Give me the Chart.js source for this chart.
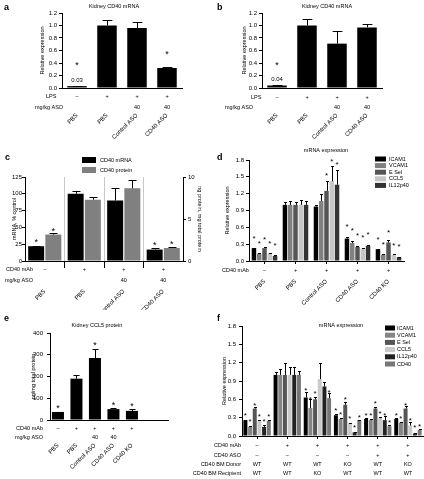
<!DOCTYPE html>
<html>
<head>
<meta charset="utf-8">
<script src="https://cdn.jsdelivr.net/npm/chart.js@4.4.1/dist/chart.umd.min.js"></script>
<style>
  html, body { margin: 0; padding: 0; background: #fff; }
  body { position: relative; width: 424px; height: 479px; overflow: hidden; }
  canvas { position: absolute; }
</style>
</head>
<body>
<canvas id="panelA" width="212" height="140" style="left:0;top:0"></canvas>
<canvas id="panelB" width="212" height="140" style="left:212px;top:0"></canvas>
<canvas id="panelC" width="212" height="170" style="left:0;top:140px"></canvas>
<canvas id="panelD" width="212" height="170" style="left:212px;top:140px"></canvas>
<canvas id="panelE" width="212" height="169" style="left:0;top:310px"></canvas>
<canvas id="panelF" width="244" height="169" style="left:180px;top:310px"></canvas>
<script>
// ---- data: panel a / b (kidney CD40 mRNA, LPS model)
const abCats = ['PBS', 'PBS', 'Control ASO', 'CD40 ASO'];
const abLPS = ['–', '+', '+', '+'];
const abASO = ['', '', '40', '40'];
const abTicks = [0, 0.2, 0.4, 0.6, 0.8, 1.0, 1.2];
const aVals = [0.03, 1.00, 0.96, 0.32];
const aErr = [0.035, 1.08, 1.05, 0.33];
const aStars = [0.39, null, null, 0.56];
const bVals = [0.04, 1.00, 0.71, 0.97];
const bErr = [0.05, 1.10, 0.91, 1.03];
const bStars = [0.39, null, null, null];

// ---- data: panel c (CD40 mRNA / protein)
const cCats = ['PBS', 'PBS', 'Control ASO', 'CD40 ASO'];
const cMAb = ['–', '+', '+', '+'];
const cASO = ['', '', '40', '40'];
const cTicksL = [0, 25, 50, 75, 100, 125];
const cTicksR = [0, 5, 10];
const cMRNA = [22, 100, 90, 17];
const cMRNAErr = [22.5, 104, 108, 19];
const cMRNAStars = [31, null, null, 26];
const cProt = [3.15, 7.3, 8.65, 1.55];
const cProtErr = [3.28, 7.6, 9.6, 1.65];
const cProtStars = [3.75, null, null, 2.2];

// ---- data: panel d (mRNA expression, 5 genes)
const dCats = ['PBS', 'PBS', 'Control ASO', 'CD40 ASO', 'CD40 KO'];
const dMAb = ['–', '+', '+', '+', '+'];
const dTicks = [0, 0.3, 0.6, 0.9, 1.2, 1.5, 1.8];
const dGenes = ['ICAM1', 'VCAM1', 'E Sel', 'CCL5', 'IL12p40'];
const dICAM1 = [0.23, 1.00, 0.97, 0.40, 0.21];
const dVCAM1 = [0.13, 1.00, 1.07, 0.32, 0.11];
const dESel = [0.23, 1.00, 1.25, 0.25, 0.33];
const dCCL5 = [0.14, 1.00, 1.42, 0.22, 0.11];
const dIL12 = [0.09, 1.00, 1.36, 0.27, 0.07];
const dICAM1Err = [0.24, 1.06, 1.00, 0.43, 0.22];
const dVCAM1Err = [0.14, 1.07, 1.20, 0.35, 0.12];
const dESelErr = [0.25, 1.06, 1.42, 0.26, 0.37];
const dCCL5Err = [0.15, 1.09, 1.70, 0.23, 0.12];
const dIL12Err = [0.10, 1.07, 1.62, 0.29, 0.08];
const dICAM1Star = [0.43, null, null, 0.64, 0.41];
const dVCAM1Star = [0.34, null, null, 0.57, 0.33];
const dESelStar = [0.41, null, 1.55, 0.48, 0.53];
const dCCL5Star = [0.34, null, 1.80, 0.45, 0.30];
const dIL12Star = [0.30, null, 1.75, 0.50, 0.29];

// ---- data: panel e (kidney CCL5 protein)
const eCats = ['PBS', 'PBS', 'Control ASO', 'CD40 ASO', 'CD40 KO'];
const eMAb = ['–', '+', '+', '+', '+'];
const eASO = ['', '', '40', '40', ''];
const eTicks = [0, 100, 200, 300, 400];
const eVals = [37, 190, 285, 50, 42];
const eErr = [39, 205, 328, 53, 52];
const eStars = [61, null, 353, 77, 73];

// ---- data: panel f (mRNA expression, bone marrow chimeras)
const fMAb = ['–', '+', '+', '+', '+', '+'];
const fASO = ['–', '–', '–', '–', '+', '+'];
const fDonor = ['WT', 'WT', 'WT', 'KO', 'WT', 'KO'];
const fRecipient = ['WT', 'WT', 'KO', 'WT', 'WT', 'WT'];
const fTicks = [0, 0.3, 0.6, 0.9, 1.2, 1.5, 1.8];
const fGenes = ['ICAM1', 'VCAM1', 'E Sel', 'CCL5', 'IL12p40', 'CD40'];
const fICAM1 = [0.26, 1.00, 0.63, 0.34, 0.28, 0.28];
const fVCAM1 = [0.15, 1.00, 0.46, 0.28, 0.26, 0.22];
const fESel = [0.45, 1.00, 0.60, 0.51, 0.45, 0.45];
const fCCL5 = [0.25, 1.00, 0.93, 0.21, 0.29, 0.17];
const fIL12 = [0.15, 1.00, 0.81, 0.06, 0.26, 0.04];
const fCD40 = [0.25, 1.00, 0.62, 0.26, 0.16, 0.10];
const fICAM1Err = [0.27, 1.05, 0.72, 0.36, 0.29, 0.30];
const fVCAM1Err = [0.16, 1.10, 0.60, 0.30, 0.28, 0.23];
const fESelErr = [0.47, 1.20, 0.64, 0.55, 0.48, 0.49];
const fCCL5Err = [0.26, 1.13, 1.20, 0.22, 0.31, 0.23];
const fIL12Err = [0.18, 1.13, 0.88, 0.07, 0.33, 0.05];
const fCD40Err = [0.26, 1.07, 0.70, 0.27, 0.18, 0.11];
const fICAM1Star = [0.36, null, 0.77, 0.44, 0.37, 0.37];
const fVCAM1Star = [0.26, null, 0.63, 0.38, 0.36, 0.32];
const fESelStar = [0.53, null, 0.72, 0.63, 0.56, 0.53];
const fCCL5Star = [0.35, null, null, 0.31, 0.39, 0.28];
const fIL12Star = [0.27, null, null, 0.16, 0.36, 0.16];
const fCD40Star = [0.35, null, 0.74, 0.33, 0.25, 0.19];

const FONT = '"Liberation Sans", Arial, sans-serif';
Chart.defaults.font.family = FONT;
Chart.defaults.font.size = 6;
Chart.defaults.color = '#000';
Chart.defaults.animation = false;
Chart.defaults.plugins.legend.display = false;
Chart.defaults.plugins.tooltip.enabled = false;

// error bars, asterisks, row tables under the axis, legend, titles
const deco = {
  id: 'deco',
  afterDraw(chart, args, o) {
    const ctx = chart.ctx;
    const xs = chart.scales.x;
    ctx.save();
    ctx.fillStyle = '#000';
    ctx.strokeStyle = '#000';
    ctx.lineWidth = 1;

    (o.err || []).forEach((errs, di) => {
      const meta = chart.getDatasetMeta(di);
      const ys = chart.scales[meta.yAxisID];
      errs.forEach((e, i) => {
        const bar = meta.data[i];
        if (e == null || !bar) return;
        const x = Math.round(bar.x) + 0.5;
        const yt = Math.round(ys.getPixelForValue(e)) + 0.5;
        const cap = Math.max(1.5, bar.width * (o.cap || 0.25));
        ctx.beginPath();
        ctx.moveTo(x, bar.y);
        ctx.lineTo(x, yt);
        ctx.moveTo(x - cap, yt);
        ctx.lineTo(x + cap, yt);
        ctx.stroke();
      });
    });

    ctx.font = (o.starSize || 9) + 'px ' + FONT;
    ctx.textAlign = 'center';
    ctx.textBaseline = 'middle';
    (o.stars || []).forEach((st, di) => {
      const meta = chart.getDatasetMeta(di);
      const ys = chart.scales[meta.yAxisID];
      st.forEach((s, i) => {
        if (s == null) return;
        ctx.fillText('*', meta.data[i].x, ys.getPixelForValue(s) + 2);
      });
    });

    ctx.font = '6px ' + FONT;
    (o.valueLabels || []).forEach(l => {
      const meta = chart.getDatasetMeta(l.di);
      ctx.fillText(l.text, meta.data[l.i].x, chart.scales[meta.yAxisID].getPixelForValue(l.at));
    });

    ctx.font = '5.5px ' + FONT;
    (o.rows || []).forEach(r => {
      ctx.textAlign = r.align || 'right';
      ctx.fillText(r.label, r.lx, r.y);
      ctx.textAlign = 'center';
      r.values.forEach((v, i) => ctx.fillText(v, xs.getPixelForValue(i), r.y));
    });

    if (o.legend) {
      const L = o.legend;
      ctx.textAlign = 'left';
      chart.data.datasets.forEach((ds, i) => {
        const y = L.y + i * L.dy;
        ctx.fillStyle = ds.backgroundColor;
        ctx.fillRect(L.x, y - L.bh / 2, L.bw, L.bh);
        ctx.fillStyle = '#000';
        ctx.fillText(ds.label, L.x + L.bw + L.gap, y);
      });
    }

    if (o.title) {
      ctx.textAlign = 'center';
      ctx.fillText(o.title.text, o.title.x, o.title.y);
    }
    if (o.letter) {
      ctx.font = 'bold 9px ' + FONT;
      ctx.textAlign = 'left';
      ctx.textBaseline = 'alphabetic';
      ctx.fillText(o.letter.text, o.letter.x, o.letter.y);
    }
    ctx.restore();
  }
};

function frame(W, area, rightAxis) {
  return { padding: { top: area.T, left: 0, bottom: 0, right: rightAxis ? 0 : W - area.R } };
}

function yAxis(ticks, width, opts) {
  return {
    type: 'linear',
    position: opts.position || 'left',
    min: ticks[0],
    max: ticks[ticks.length - 1],
    afterBuildTicks: s => { s.ticks = ticks.map(v => ({ value: v })); },
    afterFit: s => { s.width = width; },
    ticks: { padding: opts.pad ?? 2, font: { size: 6 }, callback: opts.fmt || (v => v) },
    grid: { drawOnChartArea: false, tickLength: 3, tickColor: '#000' },
    border: { color: '#000', width: 1 },
    title: {
      display: !!opts.title, text: opts.title, font: { size: 5.5 },
      padding: { top: (opts.titleX || 4) - 3.3, bottom: 0 }
    }
  };
}

function xAxis(H, area, opts) {
  return Object.assign({
    afterFit: s => { s.height = H - area.B; },
    grid: { drawOnChartArea: false, drawTicks: false },
    border: { color: '#000', width: 1 },
    ticks: { autoSkip: false, minRotation: 45, maxRotation: 45, padding: 24, font: { size: 6 } }
  }, opts || {});
}

const oneDec = v => v.toFixed(1);

// ---------- a
const areaA = { L: 62, T: 13, R: 182, B: 88 };
new Chart(document.getElementById('panelA'), {
  type: 'bar',
  data: { labels: abCats, datasets: [{ label: 'CD40 mRNA', data: aVals, backgroundColor: '#000', barPercentage: 0.65, categoryPercentage: 1 }] },
  options: {
    responsive: false, devicePixelRatio: 1,
    layout: frame(212, areaA),
    scales: {
      x: xAxis(140, areaA),
      y: yAxis(abTicks, areaA.L, { title: 'Relative expression', titleX: 42, fmt: oneDec })
    },
    plugins: {
      deco: {
        letter: { text: 'a', x: 4, y: 10 },
        title: { text: 'Kidney CD40 mRNA', x: 114, y: 6 },
        err: [aErr], stars: [aStars],
        valueLabels: [{ di: 0, i: 0, at: 0.12, text: aVals[0].toFixed(2) }],
        rows: [
          { label: 'LPS', values: abLPS, y: 96, lx: 46, align: 'left' },
          { label: 'mg/kg ASO', values: abASO, y: 107, lx: 35, align: 'left' }
        ]
      }
    }
  },
  plugins: [deco]
});

// ---------- b
const areaB = { L: 50, T: 13, R: 170, B: 88 };
new Chart(document.getElementById('panelB'), {
  type: 'bar',
  data: { labels: abCats, datasets: [{ label: 'CD40 mRNA', data: bVals, backgroundColor: '#000', barPercentage: 0.65, categoryPercentage: 1 }] },
  options: {
    responsive: false, devicePixelRatio: 1,
    layout: frame(212, areaB),
    scales: {
      x: xAxis(140, areaB),
      y: yAxis(abTicks, areaB.L, { title: 'Relative expression', titleX: 32, fmt: oneDec })
    },
    plugins: {
      deco: {
        letter: { text: 'b', x: 5, y: 10 },
        title: { text: 'Kidney CD40 mRNA', x: 115, y: 6 },
        err: [bErr], stars: [bStars],
        valueLabels: [{ di: 0, i: 0, at: 0.14, text: bVals[0].toFixed(2) }],
        rows: [
          { label: 'LPS', values: abLPS, y: 97, lx: 39, align: 'left' },
          { label: 'mg/kg ASO', values: abASO, y: 107, lx: 13, align: 'left' }
        ]
      }
    }
  },
  plugins: [deco]
});

// ---------- c
const areaC = { L: 25, T: 37, R: 183, B: 121 };
const edge = c => c.index === undefined || c.index === 0;
new Chart(document.getElementById('panelC'), {
  type: 'bar',
  data: {
    labels: cCats,
    datasets: [
      { label: 'CD40 mRNA', data: cMRNA, backgroundColor: '#000', yAxisID: 'y', barPercentage: 0.93, categoryPercentage: 0.87 },
      { label: 'CD40 protein', data: cProt, backgroundColor: '#808080', yAxisID: 'y2', barPercentage: 0.93, categoryPercentage: 0.87 }
    ]
  },
  options: {
    responsive: false, devicePixelRatio: 1,
    layout: frame(212, areaC, true),
    scales: {
      x: xAxis(170, areaC, {
        grid: {
          offset: true, drawOnChartArea: true, drawTicks: true, tickLength: 7,
          color: c => edge(c) ? 'rgba(0,0,0,0)' : '#c8c8c8',
          tickColor: c => edge(c) ? 'rgba(0,0,0,0)' : '#000'
        },
        ticks: { autoSkip: false, minRotation: 45, maxRotation: 45, padding: 20, font: { size: 6 } }
      }),
      y: yAxis(cTicksL, areaC.L, { title: 'mRNA, % control', titleX: 14, pad: 0 }),
      y2: yAxis(cTicksR, 212 - areaC.R, { position: 'right', title: 'ng protein, mg total protein', titleX: 12, pad: 2 })
    },
    plugins: {
      deco: {
        letter: { text: 'c', x: 5, y: 20 },
        err: [cMRNAErr, cProtErr], stars: [cMRNAStars, cProtStars],
        legend: { x: 82, y: 20, dy: 10, bw: 14, bh: 6, gap: 4 },
        rows: [
          { label: 'CD40 mAb', values: cMAb, y: 129, lx: 33 },
          { label: 'mg/kg ASO', values: cASO, y: 140, lx: 33 }
        ]
      }
    }
  },
  plugins: [deco]
});

// ---------- d
const areaD = { L: 37, T: 20, R: 192, B: 121 };
const dColors = ['#000000', '#808080', '#555555', '#c6c6c6', '#333333'];
const dSeries = [dICAM1, dVCAM1, dESel, dCCL5, dIL12];
new Chart(document.getElementById('panelD'), {
  type: 'bar',
  data: {
    labels: dCats,
    datasets: dGenes.map((g, k) => ({ label: g, data: dSeries[k], backgroundColor: dColors[k], barPercentage: 0.85, categoryPercentage: 0.85 }))
  },
  options: {
    responsive: false, devicePixelRatio: 1,
    layout: frame(212, areaD),
    scales: {
      x: xAxis(170, areaD, {
        grid: { offset: false, drawOnChartArea: false, drawTicks: true, tickLength: 3, tickColor: '#000' },
        ticks: { autoSkip: false, minRotation: 45, maxRotation: 45, padding: 14, font: { size: 6 } }
      }),
      y: yAxis(dTicks, areaD.L, { title: 'Relative expression', titleX: 15, fmt: oneDec })
    },
    plugins: {
      deco: {
        letter: { text: 'd', x: 5, y: 20 },
        title: { text: 'mRNA expression', x: 114, y: 10 },
        cap: 0.3, starSize: 8,
        err: [dICAM1Err, dVCAM1Err, dESelErr, dCCL5Err, dIL12Err],
        stars: [dICAM1Star, dVCAM1Star, dESelStar, dCCL5Star, dIL12Star],
        legend: { x: 163, y: 19, dy: 6.6, bw: 11, bh: 5, gap: 3 },
        rows: [{ label: 'CD40 mAb', values: dMAb, y: 130, lx: 10, align: 'left' }]
      }
    }
  },
  plugins: [deco]
});

// ---------- e
const areaE = { L: 50, T: 23, R: 168, B: 110 };
new Chart(document.getElementById('panelE'), {
  type: 'bar',
  data: {
    datasets: [{ label: 'CCL5', data: eVals.map((v, i) => ({ x: i, y: v })), backgroundColor: '#000', barPercentage: 0.65, categoryPercentage: 1 }]
  },
  options: {
    responsive: false, devicePixelRatio: 1,
    layout: frame(212, areaE),
    scales: {
      x: xAxis(169, areaE, {
        type: 'linear', offset: false, min: -0.43, max: 5.95,
        afterBuildTicks: s => { s.ticks = eCats.map((c, i) => ({ value: i })); },
        ticks: { autoSkip: false, minRotation: 45, maxRotation: 45, padding: 22, font: { size: 6 }, callback: v => eCats[v] }
      }),
      y: yAxis(eTicks, areaE.L, { title: 'pg/mg total protein', titleX: 33, pad: 4 })
    },
    plugins: {
      deco: {
        letter: { text: 'e', x: 4, y: 11 },
        title: { text: 'Kidney CCL5 protein', x: 97, y: 15 },
        err: [eErr], stars: [eStars],
        rows: [
          { label: 'CD40 mAb', values: eMAb, y: 118, lx: 43 },
          { label: 'mg/kg ASO', values: eASO, y: 127, lx: 43 }
        ]
      }
    }
  },
  plugins: [deco]
});

// ---------- f
const areaF = { L: 62, T: 16, R: 243, B: 126 };
const fColors = ['#000000', '#858585', '#555555', '#cacaca', '#222222', '#777777'];
const fSeries = [fICAM1, fVCAM1, fESel, fCCL5, fIL12, fCD40];
new Chart(document.getElementById('panelF'), {
  type: 'bar',
  data: {
    labels: fDonor.map((d, i) => d + '/' + fRecipient[i]),
    datasets: fGenes.map((g, k) => ({ label: g, data: fSeries[k], backgroundColor: fColors[k], barPercentage: 0.85, categoryPercentage: 0.93 }))
  },
  options: {
    responsive: false, devicePixelRatio: 1,
    layout: frame(244, areaF),
    scales: {
      x: xAxis(169, areaF, {
        grid: { offset: false, drawOnChartArea: false, drawTicks: true, tickLength: 3, tickColor: '#000' },
        ticks: { display: false }
      }),
      y: yAxis(fTicks, areaF.L, { title: 'Relative expression', titleX: 44, fmt: oneDec, pad: 3 })
    },
    plugins: {
      deco: {
        letter: { text: 'f', x: 37, y: 11 },
        title: { text: 'mRNA expression', x: 161, y: 15 },
        cap: 0.3, starSize: 8,
        err: [fICAM1Err, fVCAM1Err, fESelErr, fCCL5Err, fIL12Err, fCD40Err],
        stars: [fICAM1Star, fVCAM1Star, fESelStar, fCCL5Star, fIL12Star, fCD40Star],
        legend: { x: 205, y: 18, dy: 7.2, bw: 10, bh: 5, gap: 2 },
        rows: [
          { label: 'CD40 mAb', values: fMAb, y: 135, lx: 61 },
          { label: 'CD40 ASO', values: fASO, y: 145, lx: 61 },
          { label: 'CD40 BM Donor', values: fDonor, y: 154, lx: 61 },
          { label: 'CD40 BM Recipient', values: fRecipient, y: 163, lx: 61 }
        ]
      }
    }
  },
  plugins: [deco]
});
</script>
</body>
</html>
